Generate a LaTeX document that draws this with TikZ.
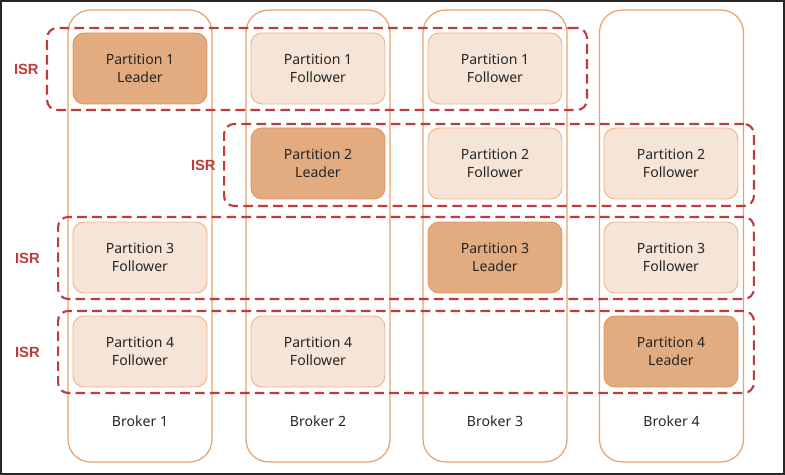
\documentclass[tikz,border=0pt]{standalone}
\usepackage{fontspec}
\setmainfont{Noto Sans}
\newfontfamily\isrfont{Liberation Sans}
\usepackage{xcolor}
\usepackage{tikz}
\usetikzlibrary{shapes,positioning}

\definecolor{leaderfill}{HTML}{E2AC80}
\definecolor{leaderline}{HTML}{DB955C}
\definecolor{followerfill}{HTML}{F6E4D6}
\definecolor{followerline}{HTML}{EBB287}
\definecolor{brokerline}{HTML}{E8A26C}
\definecolor{isrred}{HTML}{BF3B3C}
\definecolor{textgray}{HTML}{262626}

\begin{document}
\begin{tikzpicture}[
        x=0.02cm,
        y=-0.02cm,
        broker/.style={
            draw=brokerline,
            line width=0.7pt,
            rounded corners=0.45cm,
            minimum width=2.88cm,
            minimum height=9.04cm
        },
        brokerlabel/.style={
            text=textgray,
            font=\fontsize{8}{10}\selectfont
        },
        leader/.style={
            draw=leaderline,
            fill=leaderfill,
            line width=0.5pt,
            rounded corners=0.22cm,
            minimum width=2.68cm,
            minimum height=1.42cm,
            align=center,
            text=textgray,
            font=\fontsize{8}{10.2}\selectfont
        },
        follower/.style={
            leader,
            draw=followerline,
            fill=followerfill
        },
        isr/.style={
            draw=isrred,
            line width=1.2pt,
            dash pattern=on 5.5pt off 3pt,
            rounded corners=0.2cm,
            minimum height=1.64cm
        },
        isrlabel/.style={
            text=isrred,
            inner sep=0pt,
            font=\isrfont\bfseries\fontsize{8.4}{10}\selectfont
        }
    ]

    \useasboundingbox (0,0) rectangle (785,475);

    % frame
    \draw[
        line width=1.2pt,
        color=black!85
    ] (1,1) rectangle (784,474);

    % brokers
    \node[broker] (broker1) at (140,236) {};
    \node[broker] (broker2) at (318,236) {};
    \node[broker] (broker3) at (495,236) {};
    \node[broker] (broker4) at (671.5,236) {};

    \node[brokerlabel] (broker1label) at (140,421) {Broker 1};
    \node[brokerlabel] (broker2label) at (318,421) {Broker 2};
    \node[brokerlabel] (broker3label) at (495,421) {Broker 3};
    \node[brokerlabel] (broker4label) at (671.5,421) {Broker 4};

    % in-sync replica groups
    \node[isr, minimum width=10.8cm] (isr1) at (317,69) {};
    \node[isr, minimum width=10.6cm] (isr2) at (489,165) {};
    \node[isr, minimum width=13.92cm] (isr3) at (406,258) {};
    \node[isr, minimum width=13.92cm] (isr4) at (406,352) {};

    \node[isrlabel, left=0.14cm of isr1] (isr1label) {ISR};
    \node[isrlabel, left=0.14cm of isr2] (isr2label) {ISR};
    \node[isrlabel, left=0.34cm of isr3] (isr3label) {ISR};
    \node[isrlabel, left=0.34cm of isr4] (isr4label) {ISR};

    % partition 1
    \node[leader] (p1b1) at (140,68.5) {Partition 1\\Leader};
    \node[follower] (p1b2) at (318,68.5) {Partition 1\\Follower};
    \node[follower] (p1b3) at (495,68.5) {Partition 1\\Follower};

    % partition 2
    \node[leader] (p2b2) at (318,163.5) {Partition 2\\Leader};
    \node[follower] (p2b3) at (495,163.5) {Partition 2\\Follower};
    \node[follower] (p2b4) at (671,163.5) {Partition 2\\Follower};

    % partition 3
    \node[follower] (p3b1) at (140,257.5) {Partition 3\\Follower};
    \node[leader] (p3b3) at (495,257.5) {Partition 3\\Leader};
    \node[follower] (p3b4) at (671,257.5) {Partition 3\\Follower};

    % partition 4
    \node[follower] (p4b1) at (140,351.5) {Partition 4\\Follower};
    \node[follower] (p4b2) at (318,351.5) {Partition 4\\Follower};
    \node[leader] (p4b4) at (671,351.5) {Partition 4\\Leader};

\end{tikzpicture}
\end{document}
